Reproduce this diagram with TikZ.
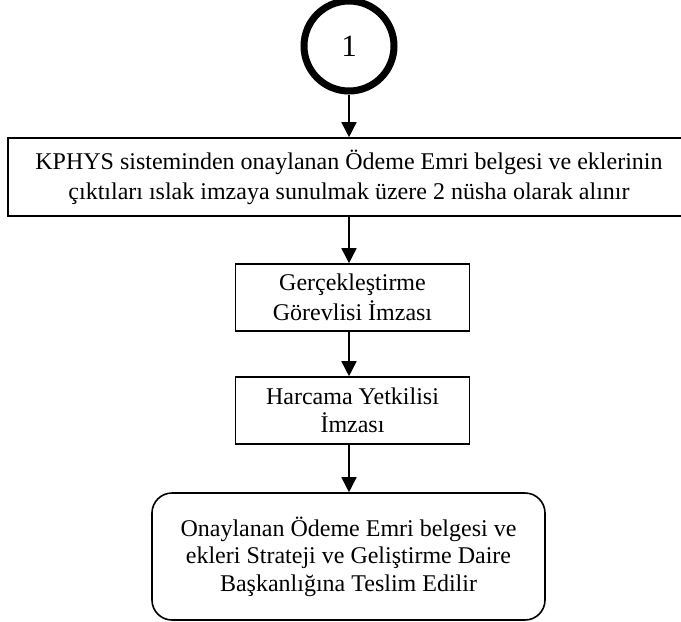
\documentclass[tikz,border=0pt]{standalone}
\usepackage{fontspec}
\setmainfont{Liberation Serif}
\usetikzlibrary{arrows.meta}
\begin{document}
\begin{tikzpicture}[x=1pt,y=-1pt,
  box/.style={draw,line width=1.6pt,inner sep=0pt,align=center,font=\fontsize{24}{28}\selectfont},
  conn/.style={line width=1.6pt,-{Triangle[width=15pt,length=15pt]}}]
\useasboundingbox (0,0) rectangle (681,622);
\node[draw,circle,line width=7pt,minimum size=90pt,inner sep=0pt,font=\fontsize{31}{33}\selectfont] (c1) at (349,46) {1};
\node[box,minimum width=682pt,minimum height=78pt,font=\fontsize{24}{30}\selectfont] (b1) at (349,177) {KPHYS sisteminden onaylanan Ödeme Emri belgesi ve eklerinin\\çıktıları ıslak imzaya sunulmak üzere 2 nüsha olarak alınır};
\node[box,minimum width=234pt,minimum height=67pt,font=\fontsize{24}{30}\selectfont] (b2) at (352.5,297.5) {Gerçekleştirme\\Görevlisi İmzası};
\node[box,minimum width=234pt,minimum height=67pt] (b3) at (352.5,410.5) {Harcama Yetkilisi\\İmzası};
\node[box,rounded corners=20pt,minimum width=393pt,minimum height=127pt,font=\fontsize{24}{27.5}\selectfont] (b4) at (348.5,556.5) {Onaylanan Ödeme Emri belgesi ve\\ekleri Strateji ve Geliştirme Daire\\Başkanlığına Teslim Edilir};
\draw[conn] (c1.south) -- (c1.south |- b1.north);
\draw[conn] (b1.south -| c1.south) -- (c1.south |- b2.north);
\draw[conn] (b2.south -| c1.south) -- (c1.south |- b3.north);
\draw[conn] (b3.south -| c1.south) -- (c1.south |- b4.north);
\end{tikzpicture}
\end{document}
